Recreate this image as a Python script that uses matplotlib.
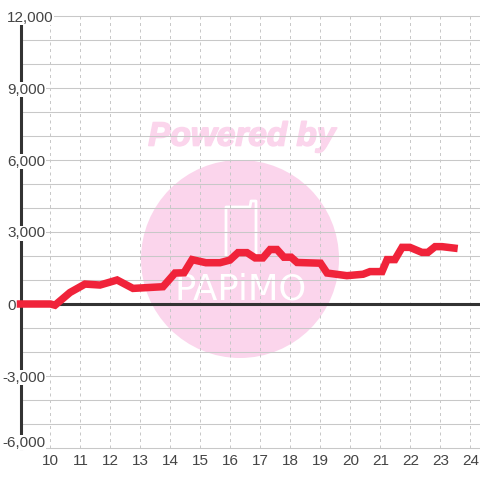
import matplotlib
matplotlib.use("Agg")
import matplotlib.pyplot as plt
import matplotlib.patheffects as pe
from matplotlib.lines import Line2D
from matplotlib.patches import Circle

plt.rcParams["font.family"] = ["Liberation Sans", "DejaVu Sans"]

# readings
hours = [9.0, 10.0, 10.15, 10.65, 11.15, 11.65, 12.22, 12.75, 13.75, 14.15, 14.45, 14.72,
         15.18, 15.65, 15.98, 16.25, 16.55, 16.82, 17.08, 17.32, 17.55, 17.78,
         18.02, 18.22, 19.0, 19.22, 19.88, 20.42, 20.65, 21.05, 21.22, 21.48,
         21.72, 21.98, 22.38, 22.58, 22.82, 23.05, 23.45]
values = [0, 0, -50, 480, 830, 790, 1000, 650, 720, 1290, 1300, 1850,
          1720, 1720, 1830, 2140, 2140, 1920, 1920, 2270, 2270, 1950,
          1950, 1730, 1700, 1290, 1180, 1240, 1350, 1350, 1850, 1850,
          2360, 2360, 2150, 2150, 2390, 2390, 2330]

x_ticks = list(range(10, 25))
y_ticks = list(range(-6000, 12001, 1000))
y_labels = [-6000, -3000, 0, 3000, 6000, 9000, 12000]

TEXT = "#444444"
GRID = "#c8c8c8"
DARK = "#333333"
RED = "#f0233a"
PINK = "#fbd5ec"

fig = plt.figure(figsize=(4.8, 4.8), dpi=100)
ax = fig.add_axes([20.5 / 480, 32 / 480, 459.5 / 480, 432 / 480])
ax.set_xlim(9, 24.3167)
ax.set_ylim(-6000, 12000)

for s in ["top", "right", "bottom"]:
    ax.spines[s].set_visible(False)
ax.spines["left"].set_linewidth(2.2)
ax.spines["left"].set_color(DARK)

ax.set_xticks(x_ticks)
ax.set_yticks(y_ticks)
ax.tick_params(length=0, labelleft=False, labelbottom=False)
ax.grid(axis="y", color=GRID, linewidth=0.75, clip_on=False)
ax.grid(axis="x", color=GRID, linewidth=0.72, linestyle=(0, (3, 3.5)))


# watermark, placed in figure fractions
def fx(px):
    return px / 480


def fy(px):
    return 1 - px / 480


ax.add_patch(Circle((fx(240), fy(259)), 99 / 480, transform=fig.transFigure,
                    facecolor=PINK, edgecolor="none", zorder=1))
ax.text(fx(242), fy(137), "Powered by", transform=fig.transFigure, color=PINK,
        fontsize=24, fontweight="bold", fontstyle="italic", ha="center", va="center", zorder=1,
        path_effects=[pe.withStroke(linewidth=1.2, foreground=PINK)])
ax.text(fx(241), fy(289), "PAPiMO", transform=fig.transFigure, color="white",
        fontsize=25.5, family="DejaVu Sans", ha="center", va="center", zorder=1)
ax.add_line(Line2D([fx(226), fx(226), fx(250), fx(251), fx(256), fx(256)],
                   [fy(255), fy(207), fy(207), fy(201), fy(201), fy(255)],
                   transform=fig.transFigure, color="white", linewidth=2.0, zorder=1))

ax.axhline(0, color=DARK, linewidth=2.2, zorder=3)
ax.plot(hours, values, color=RED, linewidth=5.4, solid_capstyle="projecting",
        solid_joinstyle="miter", clip_on=False, zorder=4)

# y labels sit on top of the axis with a white box behind them
y_tr = ax.get_yaxis_transform()
for v in y_labels:
    x_px = 2 if v < 0 else 7
    # the lowest label is pushed up inside the plot area
    y_pos = v + 290 if v == -6000 else v
    ax.text((x_px - 20.5) / 459.5, y_pos, f"{v:,}", transform=y_tr, color=TEXT, fontsize=11,
            ha="left", va="center_baseline", zorder=5, clip_on=False,
            bbox=dict(facecolor="white", edgecolor="none", pad=0.3))

x_tr = ax.get_xaxis_transform()
for v in x_ticks:
    ax.text(v, -13 / 432, str(v), transform=x_tr, color=TEXT, fontsize=11,
            ha="center", va="center", clip_on=False)

fig.savefig("out.png", dpi=100)
